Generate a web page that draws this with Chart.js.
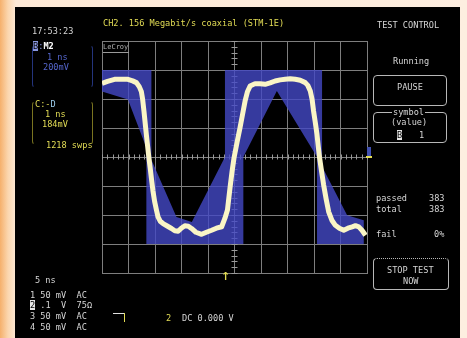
<!DOCTYPE html>
<html>
<head>
<meta charset="utf-8">
<script src="https://cdn.jsdelivr.net/npm/chart.js@4.4.1/dist/chart.umd.min.js"></script>
<style>
  html, body { margin: 0; padding: 0; }
  body {
    width: 467px; height: 338px; overflow: hidden; position: relative;
    background: linear-gradient(to right, #f5b06c 0px, #fbd6ae 8px, #fde9d6 16px, #fdeee0 100%);
  }
  #screen { position: absolute; left: 15px; top: 7px; width: 445px; height: 331px; background: #000; }
  #wrap { position: absolute; left: 0; top: 0; width: 467px; height: 338px; }
  .t {
    position: absolute; white-space: pre; line-height: 10px; height: 10px;
    font-family: "DejaVu Sans Mono", monospace; font-size: 8.6px; color: #d6d6d6;
  }
  .y { color: #e2dc55; }
  .b { color: #5566cc; }
  .box { position: absolute; border: 1px solid #b8b8b8; border-radius: 4px; }
  .inv { background: #e6e6e6; color: #000; }
</style>
</head>
<body>
<div id="screen"></div>
<div id="wrap"><canvas id="scope" width="467" height="338"></canvas></div>

<!-- boxes -->
<div class="box" style="left:32px;top:45px;width:59px;height:41px;border-color:#24347c;border-top-color:transparent;border-bottom-color:transparent;"></div>
<div class="box" style="left:32px;top:101px;width:59px;height:42px;border-color:#7a7420;border-top-color:transparent;border-bottom-color:transparent;"></div>
<div class="box" style="left:373px;top:75px;width:72px;height:29px;"></div>
<div class="box" style="left:373px;top:112px;width:72px;height:29px;"></div>
<div class="box" style="left:373px;top:258px;width:74px;height:30px;border-top-style:dotted;"></div>
<div style="position:absolute;left:113px;top:313px;width:12px;height:1px;background:#e0e0e0;"></div>
<div style="position:absolute;left:124px;top:313px;width:1px;height:9px;background:#e2dc55;"></div>
<div style="position:absolute;left:367px;top:147px;width:4px;height:9px;background:#4050b0;"></div>
<div style="position:absolute;left:366px;top:156px;width:6px;height:2px;background:#e2dc55;"></div>
<div style="position:absolute;left:103px;top:52px;width:26px;height:1px;background:#9a9a9a;"></div>

<div id="labels"></div>

<script>
// timebase 5 ns/div (10 div), vertical 200 mV/div (8 div)
var timeMin = 0, timeMax = 50, timeStep = 5;
var voltMin = -800, voltMax = 800, voltStep = 200;

var traceNs = [0, 1.04, 2.37, 3.69, 4.89, 5.78, 6.48, 7.01, 7.42, 7.67, 7.92, 8.14, 8.37, 8.62, 8.86,
  9.09, 9.32, 9.62, 9.94, 10.27, 10.57, 10.98, 11.52, 12.22, 13.11, 13.73, 14.36, 14.96, 15.63, 16.29,
  16.89, 17.71, 18.79, 19.70, 20.68, 21.59, 22.58, 23.20, 23.67, 24.15, 24.53, 24.91, 25.47, 26.04,
  26.52, 26.99, 27.46, 27.94, 28.88, 29.83, 30.78, 31.72, 32.67, 33.62, 34.56, 35.51, 36.46, 37.41,
  38.35, 38.83, 39.30, 39.64, 39.92, 40.25, 40.57, 40.81, 41.06, 41.44, 41.82, 42.29, 42.77, 43.37,
  44.03, 44.79, 45.61, 46.40, 47.20, 47.82, 48.45, 49.05, 49.72];
var traceMv = [508, 522, 536, 536, 536, 525, 513, 487, 452, 397, 316, 237, 154, 71, -8,
  -75, -146, -235, -309, -366, -413, -443, -459, -474, -493, -509, -512, -491, -474, -477,
  -493, -519, -533, -519, -505, -491, -481, -422, -366, -214, -103, -6, 99, 201,
  294, 385, 452, 489, 506, 505, 501, 511, 524, 532, 536, 539, 536, 529,
  513, 494, 455, 397, 316, 237, 154, 71, -8, -103, -193, -290, -378, -436,
  -471, -491, -505, -491, -482, -474, -482, -505, -540];

// STM-1E pulse template (allowed band), upper edge then lower edge back
var maskNs = [0, 9.32, 9.32, 14.05, 16.95, 23.20, 23.20, 41.52, 41.52, 46.25, 49.39,
  49.39, 40.57, 40.57, 32.99, 26.67, 26.67, 8.37, 8.37, 4.89, 0];
var maskMv = [600, 600, -19, -413, -448, 0, 600, 600, -66, -401, -436,
  -600, -600, 0, 455, 0, -600, -600, 64, 397, 452];

var labels = [
  ['17:53:23', 32, 31, ''],
  ['CH2. 156 Megabit/s coaxial (STM-1E)', 103, 22.5, 'y'],
  ['TEST CONTROL', 377, 24.5, ''],
  ['Running', 393, 61, ''],
  ['PAUSE', 397, 86.5, ''],
  ['(value)', 391, 122, ''],
  ['1', 419, 135, ''],
  ['passed', 376, 197.5, ''],
  ['383', 429, 197.5, ''],
  ['total', 376, 208.5, ''],
  ['383', 429, 208.5, ''],
  ['fail', 376, 233.5, ''],
  ['0%', 434, 233.5, ''],
  ['STOP TEST', 387, 270, ''],
  ['NOW', 403, 281, ''],
  ['1 ns', 47, 57, 'b'],
  ['200mV', 43, 67, 'b'],
  ['1 ns', 45, 113.5, 'y'],
  ['184mV', 42, 124, 'y'],
  ['1218 swps', 46, 144.5, 'y'],
  ['5 ns', 35, 280, ''],
  ['1 50 mV  AC', 30, 294.5, ''],
  ['  .1  V  75\u03a9', 30, 304.5, ''],
  ['3 50 mV  AC', 30, 315.5, ''],
  ['4 50 mV  AC', 30, 326.5, ''],
  ['2', 166, 317.5, 'y'],
  ['DC 0.000 V', 182, 317.5, '']
];

var holder = document.getElementById('labels');
labels.forEach(function (l) {
  var d = document.createElement('div');
  d.className = 't ' + l[3];
  d.style.left = l[1] + 'px';
  d.style.top = (l[2] - 5) + 'px';
  d.textContent = l[0];
  holder.appendChild(d);
});

function addHtml(html) {
  var d = document.createElement('div');
  d.innerHTML = html;
  holder.appendChild(d.firstChild);
}
addHtml('<div class="t" style="left:33px;top:41px;"><span style="background:#8a98e0;color:#000;">B</span><span style="color:#8a98e0">:</span><b style="color:#fff">M2</b></div>');
addHtml('<div class="t y" style="left:35px;top:99px;">C:-<span style="color:#9fd0f0">D</span></div>');
addHtml('<div class="t" style="left:392px;top:107px;background:#000;padding:0 1px;">symbol</div>');
addHtml('<div class="t inv" style="left:397px;top:130px;">B</div>');
addHtml('<div class="t inv" style="left:30px;top:299.5px;">2</div>');
addHtml('<div class="t" style="left:103px;top:42px;font-size:7px;color:#b0b0b0;">LeCroy</div>');
addHtml('<div class="t y" style="left:221px;top:271px;font-family:\'DejaVu Sans\';font-size:11px;font-weight:bold;line-height:11px;height:11px;">\u2191</div>');

function toPoints(xs, ys) {
  return xs.map(function (x, i) {
    return { x: x, y: ys[i] };
  });
}

// small division marks on the two centre axes
var centreTicks = {
  id: 'centreTicks',
  beforeDatasetsDraw: function (chart) {
    var ctx = chart.ctx, xs = chart.scales.x, ys = chart.scales.y;
    var cy = ys.getPixelForValue(0), cx = xs.getPixelForValue(25);
    ctx.save();
    ctx.strokeStyle = '#9a9a9a';
    ctx.lineWidth = 1;
    ctx.beginPath();
    for (var t = timeMin; t <= timeMax; t += 1) {
      var px = Math.round(xs.getPixelForValue(t)) + 0.5;
      ctx.moveTo(px, cy - 2.5);
      ctx.lineTo(px, cy + 2.5);
    }
    for (var v = voltMin; v <= voltMax; v += 40) {
      var py = Math.round(ys.getPixelForValue(v)) + 0.5;
      ctx.moveTo(cx - 3, py);
      ctx.lineTo(cx + 3, py);
    }
    ctx.stroke();
    ctx.restore();
  }
};

new Chart(document.getElementById('scope'), {
  type: 'scatter',
  data: {
    datasets: [
      {
        label: 'template',
        data: toPoints(maskNs, maskMv),
        showLine: true,
        fill: 'shape',
        backgroundColor: 'rgba(68, 72, 198, 0.8)',
        borderWidth: 0,
        borderColor: 'rgba(0,0,0,0)',
        pointRadius: 0,
        tension: 0,
        order: 2
      },
      {
        label: 'C',
        data: toPoints(traceNs, traceMv),
        showLine: true,
        fill: false,
        borderColor: '#faf5c6',
        borderWidth: 5,
        borderJoinStyle: 'round',
        pointRadius: 0,
        tension: 0,
        order: 1
      }
    ]
  },
  options: {
    responsive: false,
    animation: false,
    events: [],
    layout: { padding: { left: 102, top: 41, right: 100, bottom: 65 } },
    plugins: {
      legend: { display: false },
      tooltip: { enabled: false }
    },
    scales: {
      x: {
        type: 'linear',
        min: timeMin,
        max: timeMax,
        ticks: { display: false, stepSize: timeStep },
        grid: { color: '#7e7e7e', lineWidth: 1, drawTicks: false },
        border: { color: '#7e7e7e' }
      },
      y: {
        min: voltMin,
        max: voltMax,
        ticks: { display: false, stepSize: voltStep },
        grid: { color: '#7e7e7e', lineWidth: 1, drawTicks: false },
        border: { color: '#7e7e7e' }
      }
    }
  },
  plugins: [centreTicks]
});
</script>
</body>
</html>
